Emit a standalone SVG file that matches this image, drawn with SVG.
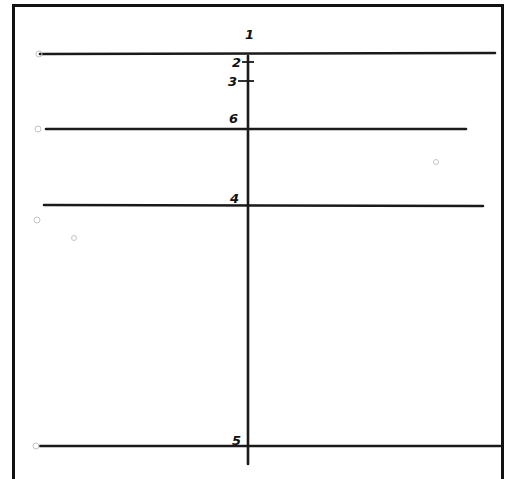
<svg xmlns="http://www.w3.org/2000/svg" width="505" height="479" viewBox="0 0 505 479">
<style>
.frame{fill:none;stroke:#111;stroke-width:3}
.h{stroke:#1a1a1a;stroke-width:2.6;stroke-linecap:round}
.v{stroke:#1a1a1a;stroke-width:2.6;stroke-linecap:round}
.tick{stroke:#1a1a1a;stroke-width:1.8}
.lbl{font-family:"DejaVu Sans",sans-serif;font-size:13px;font-weight:bold;font-style:italic;fill:#111}
.dot{fill:none;stroke:#c4c4c4;stroke-width:1}
</style>
<rect x="0" y="0" width="505" height="479" fill="#fff"/>
<path class="frame" d="M13.5,482 V5.5 H502.5 V482"/>
<g id="connectors">
<line class="h" x1="40" y1="54" x2="495" y2="53"/>
<line class="h" x1="46" y1="129" x2="466" y2="129"/>
<line class="h" x1="44" y1="205" x2="483" y2="206"/>
<line class="h" x1="40" y1="446" x2="500" y2="446"/>
<line class="v" x1="248" y1="56" x2="248" y2="464"/>
</g>
<g id="node-1"><text class="lbl" x="245" y="39">1</text></g>
<g id="node-2"><text class="lbl" x="232" y="67">2</text><line class="tick" x1="242" y1="62" x2="254" y2="62"/></g>
<g id="node-3"><text class="lbl" x="228" y="86">3</text><line class="tick" x1="238" y1="81" x2="254" y2="81"/></g>
<g id="node-6"><text class="lbl" x="229" y="123">6</text></g>
<g id="node-4"><text class="lbl" x="230" y="203">4</text></g>
<g id="node-5"><text class="lbl" x="232" y="445">5</text></g>
<circle class="dot" cx="39" cy="54" r="3"/>
<circle class="dot" cx="38" cy="129" r="3"/>
<circle class="dot" cx="37" cy="220" r="3"/>
<circle class="dot" cx="74" cy="238" r="2.5"/>
<circle class="dot" cx="36" cy="446" r="3"/>
<circle class="dot" cx="436" cy="162" r="2.5"/>
</svg>
